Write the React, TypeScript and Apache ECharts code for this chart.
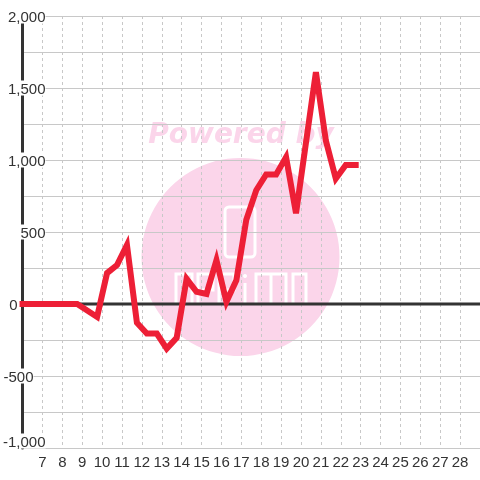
import React, { useEffect, useRef } from "react";
import * as echarts from "echarts";

const xValues = [6, 8.75, 9.75, 10.25, 10.75, 11.25, 11.75, 12.25, 12.75, 13.25, 13.75, 14.25, 14.75, 15.25, 15.75, 16.25, 16.75, 17.25, 17.75, 18.25, 18.75, 19.25, 19.75, 20.75, 21.25, 21.75, 22.25, 22.75];
const yValues = [0, 0, -90, 215, 270, 410, -130, -205, -205, -310, -235, 175, 85, 70, 305, 15, 165, 585, 790, 900, 900, 1020, 630, 1610, 1135, 870, 965, 965];
const xRange = [6, 29];
const yRange = [-1000, 2000];
const zeroLine = [[6, 0], [29, 0]];

export default function App() {
  const ref = useRef<HTMLDivElement>(null);
  useEffect(() => {
    if (!ref.current) return;
    const chart = echarts.init(ref.current, undefined, { renderer: "svg" });
    const font = "Liberation Sans, Arial, sans-serif";
    const pink = "#fbd5ea";
    const white = "#ffffff";
    const stroke = { stroke: white, lineWidth: 3, fill: null as any };
    chart.setOption({
      animation: false,
      grid: { left: 20, right: 0, top: 16, bottom: 32, containLabel: false },
      xAxis: {
        type: "value",
        min: xRange[0],
        max: xRange[1],
        interval: 1,
        axisLine: { show: false },
        axisTick: { show: false },
        axisLabel: {
          showMinLabel: false,
          showMaxLabel: false,
          fontSize: 15,
          color: "#333",
          fontFamily: font,
          margin: 6,
        },
        splitLine: { show: true, lineStyle: { color: "#c8c8c8", type: [3, 3], width: 1 } },
      },
      yAxis: {
        type: "value",
        min: yRange[0],
        max: yRange[1],
        interval: 500,
        axisLine: { show: true, onZero: false, lineStyle: { color: "#333", width: 3 } },
        axisTick: { show: false },
        minorTick: { show: false, splitNumber: 2 },
        minorSplitLine: { show: true, lineStyle: { color: "#c8c8c8", width: 1 } },
        splitLine: { show: true, lineStyle: { color: "#c8c8c8", width: 1 } },
        axisLabel: {
          align: "right",
          margin: -23,
          formatter: (v: number) => {
            const s = v.toLocaleString("en-US");
            if (v === 0) return "{t|" + s + "}{g0|}";
            if (v === -500) return "{t|" + s + "}{g1|}";
            if (v === -1000) return "{t|" + s + "}\n{g2|}";
            return "{t|" + s + "}";
          },
          rich: {
            t: { backgroundColor: white, fontSize: 15, color: "#333", fontFamily: font, lineHeight: 15 },
            g0: { width: 28 },
            g1: { width: 12 },
            g2: { height: 14, lineHeight: 14 },
          },
        },
      },
      graphic: {
        elements: [
          { type: "circle", z: -10, shape: { cx: 240.5, cy: 257, r: 99 }, style: { fill: pink }, silent: true },
          {
            type: "text",
            z: -10,
            x: 241,
            y: 133,
            style: {
              text: "Powered by",
              fill: pink,
              font: "italic bold 28px 'DejaVu Sans'",
              textAlign: "center",
              textVerticalAlign: "middle",
            },
            silent: true,
          },
          { type: "rect", z: -9, shape: { x: 225, y: 207, width: 30, height: 50, r: 4 }, style: stroke, silent: true },
          { type: "polyline", z: -9, shape: { points: [[176, 304], [176, 274], [192, 274], [192, 304]] }, style: stroke, silent: true },
          { type: "polyline", z: -9, shape: { points: [[198, 304], [198, 274], [213, 274], [213, 290], [202, 290]] }, style: stroke, silent: true },
          { type: "polyline", z: -9, shape: { points: [[219, 304], [219, 274], [234, 274], [234, 290], [223, 290]] }, style: stroke, silent: true },
          { type: "line", z: -9, shape: { x1: 245, y1: 283, x2: 245, y2: 304 }, style: stroke, silent: true },
          { type: "circle", z: -9, shape: { cx: 245, cy: 276, r: 2 }, style: { fill: white }, silent: true },
          { type: "polyline", z: -9, shape: { points: [[256, 304], [256, 274], [286, 274], [286, 304]] }, style: stroke, silent: true },
          { type: "line", z: -9, shape: { x1: 271, y1: 274, x2: 271, y2: 304 }, style: stroke, silent: true },
          { type: "polyline", z: -9, shape: { points: [[293, 304], [293, 274], [306, 274], [306, 304]] }, style: stroke, silent: true },
        ],
      },
      series: [
        {
          type: "line",
          data: zeroLine,
          showSymbol: false,
          silent: true,
          z: 1,
          lineStyle: { color: "#333", width: 3 },
        },
        {
          type: "line",
          data: xValues.map((x, i) => [x, yValues[i]]),
          showSymbol: false,
          clip: false,
          z: 2,
          lineStyle: { color: "#ed1f36", width: 6, cap: "square", join: "miter" },
        },
      ],
    });
    return () => chart.dispose();
  }, []);
  return <div ref={ref} style={{ position: "fixed", left: 0, top: 0, width: 480, height: 480 }} />;
}
